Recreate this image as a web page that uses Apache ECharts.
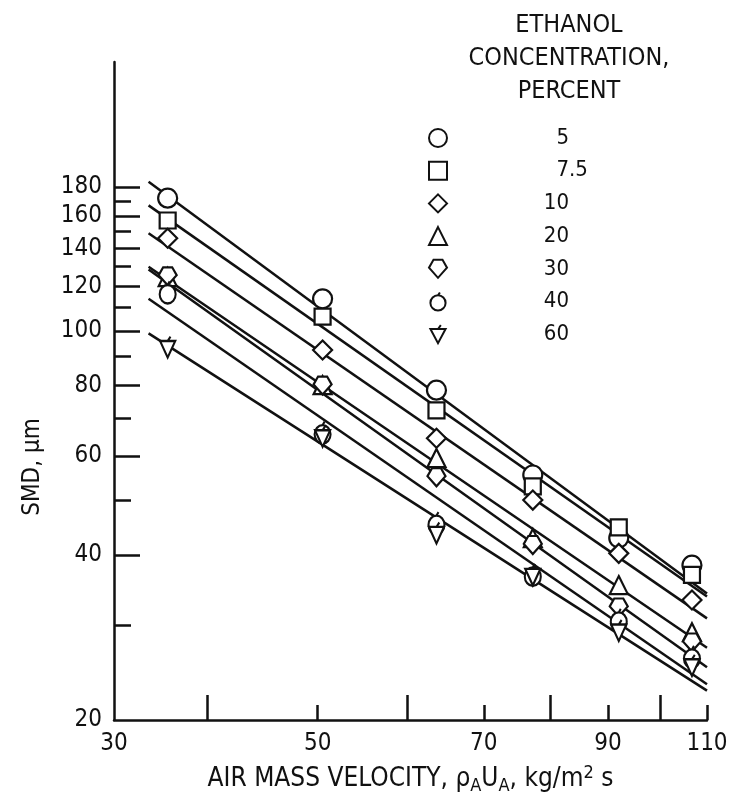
<!DOCTYPE html>
<html>
<head>
<meta charset="utf-8">
<script src="https://cdn.jsdelivr.net/npm/echarts@6/dist/echarts.min.js"></script>
<style>
html, body { margin: 0; padding: 0; background: #fff; }
#chart { width: 731px; height: 804px; }
</style>
</head>
<body>
<div id="chart"></div>
<script>
'use strict';

const FONT = "'DejaVu Sans Condensed', 'Liberation Sans Narrow', sans-serif";
const INK = '#111';

// air mass velocity at the measuring stations, kg/m2 s
const airVelocity = [36.9, 50.5, 63.6, 77.3, 92.0, 106.7];

// ethanol concentration, percent
const concentrations = ['5', '7.5', '10', '20', '30', '40', '60'];

// SMD, um, one list per concentration
const smd5  = [172, 114, 78.5, 55.5, 42.9, 38.4];
const smd75 = [157, 106, 72.3, 53.0, 44.8, 36.9];
const smd10 = [146, 92.5, 64.5, 50.1, 40.3, 33.3];
const smd20 = [124.6, 80.1, 59.5, 42.9, 35.4, 29.2];
const smd30 = [125, 80, 55.0, 41.7, 32.3, 28.0];
const smd40 = [117, 66, 45.6, 36.9, 30.7, 26.4];
const smd60 = [93.6, 65, 43.8, 36.9, 29.4, 25.5];
const smdAll = [smd5, smd75, smd10, smd20, smd30, smd40, smd60];

// fitted straight lines (log-log): SMD at the two ends
const fitVelocity = [35.5, 110];
const fitStart = [184, 167, 149, 130, 128.5, 114, 99];
const fitEnd   = [34.2, 33.8, 30.9, 27.4, 25.3, 23.6, 23.0];

// axis ticks and labels
const xLabelValues = [33.1, 50, 70, 90, 110];
const xLongTicks = [40, 60, 80, 100];
const xShortTicks = [50, 70, 90, 110];
const yLabelValues = [20.4, 40, 60, 80, 100, 120, 140, 160, 180];
const yLongTicks = [40, 60, 80, 100, 120, 140, 160, 180];
const yShortTicks = [30, 50, 70, 90, 110, 130, 150, 170];

// open symbols; 30 is a flat-topped diamond, 40 and 60 carry a small flag
const symbols = [
    'circle',
    'rect',
    'diamond',
    'triangle',
    'path://M4,0 L12,0 L16,7 L8,16 L0,7 Z',
    'path://M8,3 C12.4,3 16,6.6 16,11 C16,15.4 12.4,19 8,19 C3.6,19 0,15.4 0,11 C0,6.6 3.6,3 8,3 Z M8,3 L10,0',
    'path://M0,4 L16,4 L8,19 Z M8,4 L11,0'
];
const symbolSizes = [19, 16, 19, 18, 18, [19, 22], [18, 21]];

const chart = echarts.init(document.getElementById('chart'));

const roundLabel = v => String(Math.round(v / 10) * 10);
const tickText = { fontFamily: FONT, fontSize: 24, color: INK };

function logAxis(min, max, ticks, tickLen, labels, extra) {
    return Object.assign({
        type: 'log',
        logBase: 10,
        min: min,
        max: max,
        splitLine: { show: false },
        minorTick: { show: false },
        axisLine: { show: !!labels, lineStyle: { color: INK, width: 2.5 } },
        axisTick: {
            show: true,
            inside: true,
            length: tickLen,
            customValues: ticks,
            lineStyle: { color: INK, width: 2.5 }
        },
        axisLabel: labels ? Object.assign({
            show: true,
            customValues: labels,
            formatter: roundLabel
        }, tickText) : { show: false }
    }, extra || {});
}

const series = [];
concentrations.forEach((c, i) => {
    series.push({
        name: 'fit ' + c,
        type: 'line',
        data: fitVelocity.map((x, k) => [x, k === 0 ? fitStart[i] : fitEnd[i]]),
        symbol: 'none',
        lineStyle: { color: INK, width: 2.5 },
        z: 2,
        silent: true
    });
});
concentrations.forEach((c, i) => {
    series.push({
        name: c,
        type: 'scatter',
        data: airVelocity.map((x, k) => [x, smdAll[i][k]]),
        symbol: symbols[i],
        symbolSize: symbolSizes[i],
        symbolKeepAspect: true,
        itemStyle: { color: '#fff', borderColor: INK, borderWidth: 2.2, opacity: 1 },
        z: 3
    });
});

chart.setOption({
    backgroundColor: '#fff',
    animation: false,
    title: {
        text: 'ETHANOL\nCONCENTRATION,\nPERCENT',
        left: 569,
        top: 9,
        padding: 0,
        textAlign: 'center',
        textStyle: { fontFamily: FONT, fontSize: 25, fontWeight: 'normal', color: INK, lineHeight: 33 }
    },
    legend: {
        data: concentrations,
        orient: 'vertical',
        left: 428,
        top: 127,
        padding: 0,
        itemWidth: 18,
        itemHeight: 18,
        itemGap: 10.7,
        selectedMode: false,
        textStyle: {
            fontFamily: FONT, fontSize: 22, color: INK, lineHeight: 18,
            rich: {
                i: { fontFamily: FONT, fontSize: 22, color: INK, width: 117, align: 'right', lineHeight: 18 },
                d: { fontFamily: FONT, fontSize: 22, color: INK, align: 'right', lineHeight: 18 }
            }
        },
        formatter: name => {
            const parts = name.split('.');
            return '{i|' + parts[0] + '}' + (parts[1] ? '{d|.' + parts[1] + '}' : '');
        }
    },
    grid: { left: 114, right: 24, top: 62, bottom: 84, containLabel: false, outerBoundsMode: 'none' },
    xAxis: [
        logAxis(33.1, 110, xLongTicks, 25, xLabelValues, {
            position: 'bottom',
            axisLabel: Object.assign({ customValues: xLabelValues, formatter: roundLabel, margin: 12 }, tickText),
            name: '{t|AIR MASS VELOCITY, \u03C1}{s|A}{t|U}{s|A}{t|, kg/m}{p|2}{t| s}',
            nameLocation: 'middle',
            nameGap: 43,
            nameTextStyle: {
                rich: {
                    t: { fontFamily: FONT, fontSize: 26, color: INK },
                    s: { fontFamily: FONT, fontSize: 18, color: INK, padding: [14, 0, 0, 0] },
                    p: { fontFamily: FONT, fontSize: 18, color: INK, padding: [0, 0, 12, 0] }
                }
            }
        }),
        logAxis(33.1, 110, xShortTicks, 15, null, { position: 'bottom', offset: 0 })
    ],
    yAxis: [
        logAxis(20.4, 300, yLongTicks, 26, yLabelValues, {
            position: 'left',
            axisLabel: Object.assign({ customValues: yLabelValues, formatter: roundLabel, margin: 12 }, tickText)
        }),
        logAxis(20.4, 300, yShortTicks, 17, null, { position: 'left', offset: 0 })
    ],
    graphic: [{
        type: 'text',
        x: 33,
        y: 467,
        rotation: Math.PI / 2,
        style: {
            text: 'SMD, \u03BCm',
            fontFamily: FONT,
            fontSize: 24,
            fill: INK,
            align: 'center',
            verticalAlign: 'middle'
        }
    }],
    series: series
});
</script>
</body>
</html>
